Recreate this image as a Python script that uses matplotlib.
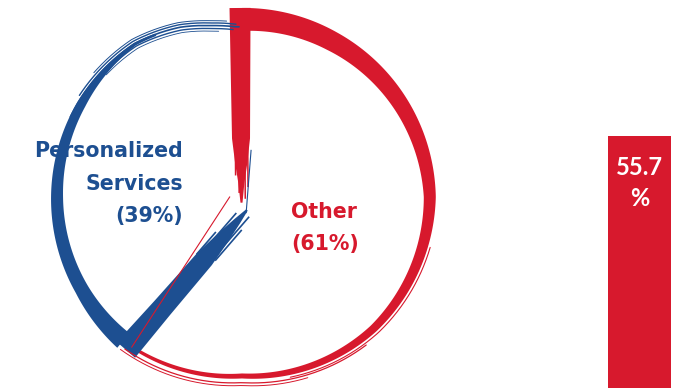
import numpy as np
import matplotlib
matplotlib.use("Agg")
import matplotlib.pyplot as plt

# ---- data ----
categories = ["Personalized\nServices", "Other"]
shares = [39, 61]
bar_value = 55.7

BLUE = "#1d4f91"
RED = "#d7192d"
LABEL_FONT = ["DejaVu Sans"]
BAR_FONT = ["Lato", "DejaVu Sans"]

FW, FH, DPI = 6.84, 3.88, 100
PX = 190.0  # pixels per data unit in the pie axes

fig = plt.figure(figsize=(FW, FH), dpi=DPI)
fig.patch.set_facecolor("white")

# ---- pie (brush-stroke outline) ----
ax = fig.add_axes([0.04825, -0.0464, 0.6111, 1.0773])
ax.set_xlim(-1.1, 1.1)
ax.set_ylim(-1.1, 1.1)
ax.set_aspect("equal")
ax.axis("off")

start = 90.0
bound = start + 360.0 * shares[0] / sum(shares)  # blue: start->bound ccw


def pol(r, t):
    t = np.radians(t)
    return r * np.cos(t), r * np.sin(t)


def interp(x, xp, fp):
    xp = np.asarray(xp, float)
    fp = np.asarray(fp, float)
    o = np.argsort(xp)
    return np.interp(x, xp[o], fp[o])


def arc_band(t0, t1, tk, rk, wk, color):
    t = np.linspace(t0, t1, 500)
    ro = interp(t, tk, rk)
    w = interp(t, tk, wk) / PX
    ri = ro - w
    xo, yo = pol(ro, t)
    xi, yi = pol(ri, t)
    ax.fill(np.r_[xo, xi[::-1]], np.r_[yo, yi[::-1]], color=color, lw=0)


def arc_line(t0, t1, tk, rk, dr, color, lw):
    t = np.linspace(t0, t1, 400)
    r = interp(t, tk, rk) + dr
    x, y = pol(r, t)
    ax.plot(x, y, color=color, lw=lw, solid_capstyle="round")


def radial_band(p0, p1, sk, wk, color):
    p0 = np.asarray(p0, float)
    p1 = np.asarray(p1, float)
    d = p1 - p0
    n = np.array([-d[1], d[0]]) / np.hypot(*d)
    s = np.linspace(0, 1, 300)
    w = interp(s, sk, wk) / PX
    c = p0[None, :] + s[:, None] * d[None, :]
    a = c + n * (w[:, None] / 2)
    b = c - n * (w[:, None] / 2)
    ax.fill(np.r_[a[:, 0], b[::-1, 0]], np.r_[a[:, 1], b[::-1, 1]],
            color=color, lw=0)
    return p0, d, n


def streaks(p0, d, n, specs, color, lw):
    for off, s0, s1 in specs:
        a = p0 + d * s0 + n * off
        b = p0 + d * s1 + n * off
        ax.plot([a[0], b[0]], [a[1], b[1]], color=color, lw=lw,
                solid_capstyle="butt")


# red arc (clockwise from top to the boundary)
r_t = [90, 60, 45, 0, -45, -90, bound - 360]
r_r = [0.995, 1.0, 1.005, 1.02, 1.0, 0.955, 0.99]
r_w = [23, 20, 18, 12, 8, 5, 3]
arc_band(start, bound - 360, r_t, r_r, r_w, RED)
arc_line(-15, -75, r_t, r_r, 0.012, RED, 0.8)
arc_line(-50, bound - 360 + 2, r_t, r_r, 0.022, RED, 0.9)
arc_line(-70, bound - 360 + 1, r_t, r_r, 0.037, RED, 0.7)

# blue arc (counter-clockwise from top to the boundary)
b_t = [92, 100, 110, 125, 150, 180, 210, bound]
b_r = [0.9, 0.92, 0.955, 0.99, 1.0, 1.005, 1.01, 1.03]
b_w = [1, 1.5, 2, 3, 9, 12, 14, 19]
arc_band(118, bound, b_t, b_r, b_w, BLUE)
arc_line(91, 155, b_t, b_r, -0.004, BLUE, 1.2)
arc_line(92, 148, b_t, b_r, 0.01, BLUE, 1.0)
arc_line(95, 140, b_t, b_r, 0.022, BLUE, 0.7)
arc_line(93, 150, b_t, b_r, -0.02, BLUE, 1.0)
arc_line(98, 138, b_t, b_r, -0.034, BLUE, 0.6)

# red radial at the top
top_in = pol(0.03, 265)
top_out = pol(0.995, 90.6)
p0, d, n = radial_band(top_in, top_out, [0, 0.1, 0.2, 0.33, 1.0],
                       [2, 6, 12, 18, 21], RED)
streaks(p0, d, n, [(-0.035, 0.08, 0.35), (0.03, 0.14, 0.36),
                   (0.012, 0.05, 0.3), (-0.02, 0.02, 0.3)], RED, 1.1)
# thin blue hair next to the red radial
ax.plot(*zip(pol(0.085, -75), pol(0.25, 79)), color=BLUE, lw=0.8)

# blue radial toward the boundary corner
c_in = pol(0.073, bound - 299.4)
c_out = pol(1.01, bound + 2.4)
p0, d, n = radial_band(c_in, c_out, [0, 0.08, 0.2, 0.35, 0.7, 1.0],
                       [2, 7, 13, 19, 21, 24], BLUE)
streaks(p0, d, n, [(0.032, 0.02, 0.3), (0.048, 0.1, 0.32),
                   (-0.032, 0.05, 0.33), (-0.048, 0.2, 0.36)], BLUE, 1.2)
# thin red hair along the blue radial
ax.plot(*zip(pol(0.065, 180), pol(0.98, bound + 3.3)), color=RED, lw=0.8)


# ---- labels ----
def fx(px):
    return px / (FW * DPI)


def fy(py):
    return 1 - py / (FH * DPI)


left_lines = categories[0].split("\n") + [f"({shares[0]}%)"]
for i, line in enumerate(left_lines):
    fig.text(fx(183), fy(157 + 32.5 * i), line, ha="right", va="baseline",
             fontsize=14.8, fontweight="bold", color=BLUE, family=LABEL_FONT)

right_lines = categories[1].split("\n") + [f"({shares[1]}%)"]
for i, line in enumerate(right_lines):
    fig.text(fx(291), fy(218 + 32 * i), line, ha="left", va="baseline",
             fontsize=14.8, fontweight="bold", color=RED, family=LABEL_FONT)

# ---- bar ----
axb = fig.add_axes([608 / 684, -0.5, 63 / 684, 2.0637])
axb.bar([0], [bar_value], width=1.0, color=RED)
axb.set_xlim(-0.5, 0.5)
axb.set_ylim(0, 100)
axb.axis("off")
axb.annotate(f"{bar_value}", xy=(0, bar_value), xytext=(0, -39 * 0.72),
             textcoords="offset points", ha="center", va="baseline",
             color="white", fontsize=17, fontweight="bold", family=BAR_FONT)
axb.annotate("%", xy=(0, bar_value), xytext=(0, -70 * 0.72),
             textcoords="offset points", ha="center", va="baseline",
             color="white", fontsize=17, fontweight="bold", family=BAR_FONT)

fig.savefig("out.png", dpi=DPI, facecolor="white")
